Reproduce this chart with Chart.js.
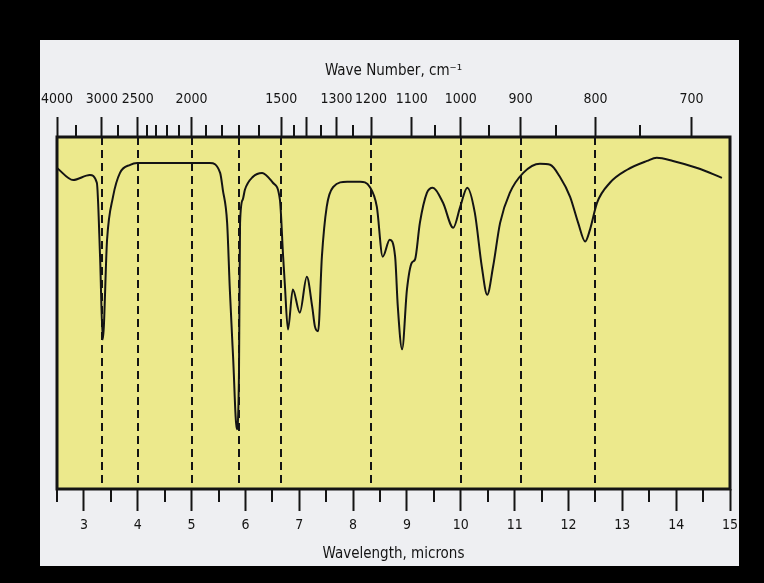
<!DOCTYPE html>
<html>
<head>
<meta charset="utf-8">
<script src="https://cdn.jsdelivr.net/npm/chart.js@4"></script>
<style>
  html, body { margin: 0; padding: 0; background: #000; }
  body { width: 764px; height: 583px; position: relative; overflow: hidden; }
  #panel { position: absolute; left: 40px; top: 40px; width: 699px; height: 526px; background: #eeeff2; overflow: hidden; }
  #spectrum { position: absolute; left: -40px; top: -40px; }
</style>
</head>
<body>
<div id="panel"><canvas id="spectrum" width="764" height="583"></canvas></div>
<script>
// spectrum trace: wavelength (microns) vs transmittance (%)
const wavelength = [
  2.50, 2.80, 3.11, 3.24, 3.30, 3.35, 3.43, 3.54, 3.67, 3.86, 3.99,
  5.34, 5.53, 5.58, 5.66, 5.71, 5.77, 5.84, 5.88, 5.90, 5.95, 5.99,
  6.14, 6.31, 6.51, 6.64, 6.70, 6.73, 6.79, 6.88, 7.01, 7.14, 7.24,
  7.29, 7.35, 7.42, 7.51, 7.63, 7.89, 8.13, 8.31, 8.44, 8.55, 8.68,
  8.78, 8.83, 8.91, 9.00, 9.09, 9.15, 9.24, 9.37, 9.48, 9.67, 9.86,
  9.99, 10.12, 10.26, 10.39, 10.49, 10.60, 10.73, 10.91, 11.16, 11.47, 11.66,
  11.84, 12.03, 12.18, 12.31, 12.40, 12.53, 12.77, 13.09, 13.46, 13.64, 13.94,
  14.39, 14.85
];
const transmittance = [
  91.2, 87.8, 89.2, 87.0, 66.0, 42.5, 70.8, 83.0, 89.8, 92.1, 92.6,
  92.6, 89.8, 85.0, 75.6, 56.7, 37.7, 17.0, 33.1, 75.6, 82.2, 85.0,
  88.7, 89.8, 87.0, 82.2, 66.0, 58.6, 45.3, 56.7, 50.1, 60.3, 51.8,
  46.2, 44.8, 66.0, 80.2, 85.8, 87.3, 87.3, 85.8, 80.2, 66.0, 70.8,
  66.0, 51.8, 39.7, 56.7, 64.3, 65.2, 75.6, 84.1, 85.6, 81.3, 74.2,
  80.2, 85.6, 78.5, 63.2, 55.2, 63.2, 75.6, 84.1, 89.8, 92.4, 92.1,
  88.7, 83.0, 75.6, 70.3, 73.7, 81.3, 87.0, 90.7, 93.2, 94.1, 93.2,
  91.2, 88.4
];

// top axis (wave number, cm-1)
const wnLabelled = [4000, 3000, 2500, 2000, 1500, 1300, 1200, 1100, 1000, 900, 800, 700];
const wnMajor = [4000, 3000, 2500, 2000, 1500, 1400, 1300, 1200, 1100, 1000, 900, 800, 700];
const wnMinor = [3500, 2750, 2400, 2300, 2200, 2100, 1900, 1800, 1700, 1600, 1450, 1350, 1250, 1050, 950, 850, 750];
const wnDashed = [3000, 2500, 2000, 1700, 1500, 1200, 1000, 900, 800];

// bottom axis (wavelength, microns)
const umMajor = [3, 4, 5, 6, 7, 8, 9, 10, 11, 12, 13, 14, 15];
const umMinor = [2.5, 3.5, 4.5, 5.5, 6.5, 7.5, 8.5, 9.5, 10.5, 11.5, 12.5, 13.5, 14.5];

const ink = '#141414';
const fontFamily = "'Liberation Sans Narrow', 'DejaVu Sans Condensed', 'Roboto Condensed', sans-serif";
Chart.defaults.font.family = fontFamily;
Chart.defaults.color = ink;

const toUm = wn => 10000 / wn;
const isMajorWn = v => wnMajor.includes(Math.round(10000 / v));
const isMajorUm = v => umMajor.includes(v);

const irDecor = {
  id: 'irDecor',
  beforeDraw(chart) {
    const { ctx, chartArea: a } = chart;
    ctx.save();
    ctx.fillStyle = '#ece98c';
    ctx.fillRect(a.left, a.top, a.right - a.left, a.bottom - a.top);
    ctx.restore();
  },
  beforeDatasetsDraw(chart) {
    const { ctx, chartArea: a } = chart;
    const top = chart.scales.x2, bottom = chart.scales.x;
    ctx.save();
    ctx.strokeStyle = ink;
    ctx.lineWidth = 2;
    // short ticks
    wnMinor.forEach(wn => {
      const px = Math.round(top.getPixelForValue(toUm(wn)));
      ctx.beginPath(); ctx.moveTo(px, a.top - 12); ctx.lineTo(px, a.top); ctx.stroke();
    });
    umMinor.forEach(um => {
      const px = Math.round(bottom.getPixelForValue(um));
      ctx.beginPath(); ctx.moveTo(px, a.bottom); ctx.lineTo(px, a.bottom + 13); ctx.stroke();
    });
    // dashed guide lines
    ctx.setLineDash([8, 5]);
    wnDashed.forEach(wn => {
      const px = Math.round(top.getPixelForValue(toUm(wn)));
      ctx.beginPath(); ctx.moveTo(px, a.top); ctx.lineTo(px, a.bottom); ctx.stroke();
    });
    ctx.restore();
  },
  afterDatasetsDraw(chart) {
    const { ctx, chartArea: a } = chart;
    ctx.save();
    ctx.strokeStyle = ink;
    ctx.lineWidth = 3;
    ctx.strokeRect(a.left, a.top, a.right - a.left, a.bottom - a.top);
    ctx.restore();
  }
};

new Chart(document.getElementById('spectrum'), {
  type: 'line',
  data: {
    datasets: [{
      data: wavelength.map((w, i) => ({ x: w, y: transmittance[i] })),
      borderColor: ink,
      borderWidth: 2,
      pointRadius: 0,
      cubicInterpolationMode: 'monotone',
      fill: false
    }]
  },
  options: {
    responsive: false,
    animation: false,
    layout: { padding: { left: 57, right: 34, top: 40, bottom: 17 } },
    plugins: { legend: { display: false }, tooltip: { enabled: false } },
    scales: {
      x: {
        type: 'linear',
        position: 'bottom',
        min: 2.5,
        max: 15,
        afterBuildTicks: s => { s.ticks = umMajor.concat(umMinor).sort((p, q) => p - q).map(v => ({ value: v })); },
        afterFit: s => { s.height = 77; },
        border: { display: false },
        grid: {
          drawOnChartArea: false,
          tickLength: 22,
          tickWidth: 2,
          tickColor: c => isMajorUm(c.tick.value) ? ink : 'transparent'
        },
        ticks: {
          autoSkip: false,
          maxRotation: 0,
          minRotation: 0,
          padding: 6,
          font: { size: 14 },
          callback: v => isMajorUm(v) ? String(v) : ''
        },
        title: {
          display: true,
          text: 'Wavelength, microns',
          font: { size: 15 },
          padding: { top: 0, bottom: 3 }
        }
      },
      x2: {
        type: 'linear',
        axis: 'x',
        position: 'top',
        min: 2.5,
        max: 15,
        afterBuildTicks: s => { s.ticks = wnMajor.map(wn => ({ value: toUm(wn) })); },
        afterFit: s => { s.height = 97; },
        border: { display: false },
        grid: {
          drawOnChartArea: false,
          tickLength: 20,
          tickWidth: 2,
          tickColor: c => isMajorWn(c.tick.value) ? ink : 'transparent'
        },
        ticks: {
          autoSkip: false,
          maxRotation: 0,
          minRotation: 0,
          padding: 9,
          font: { size: 14 },
          callback: v => {
            const wn = Math.round(10000 / v);
            return wnLabelled.includes(wn) ? String(wn) : '';
          }
        },
        title: {
          display: true,
          text: 'Wave Number, cm⁻¹',
          font: { size: 15 },
          padding: { top: 22, bottom: 0 }
        }
      },
      y: {
        display: false,
        min: 0,
        max: 100
      }
    }
  },
  plugins: [irDecor]
});
</script>
</body>
</html>
